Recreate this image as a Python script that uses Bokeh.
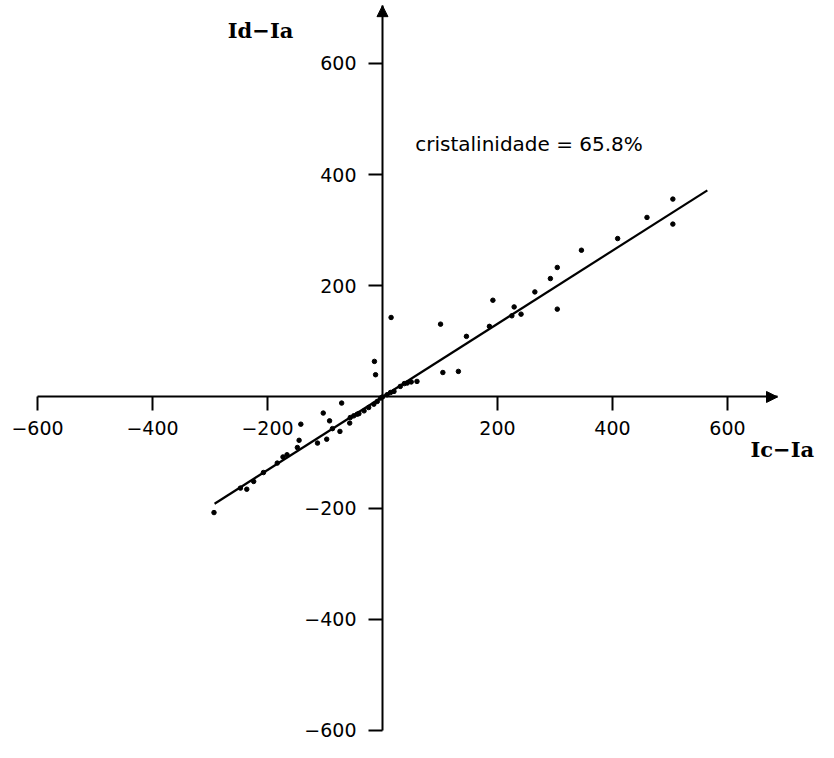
from bokeh.plotting import figure
from bokeh.models import Arrow, NormalHead, Label, FixedTicker, Range1d
from bokeh.embed import file_html
from bokeh.resources import INLINE

# ---- data ----
x_vals = [-293, -247, -236, -224, -207, -183, -173, -166, -148, -145, -142, -113, -97, -103,
          -92, -87, -74, -71, -57, -56, -50, -44, -41, -32, -24, -15, -9, -3, -14, -12,
          0, 8, 14, 20, 31, 38, 43, 50, 60, 15, 101, 105, 132, 146, 186, 192, 225, 229,
          241, 265, 292, 304, 304, 346, 409, 460, 505, 505]
y_vals = [-208, -164, -166, -152, -136, -119, -108, -104, -91, -78, -49, -83, -76, -29,
          -43, -57, -62, -11, -47, -37, -34, -31, -30, -25, -19, -13, -8, -2, 64, 40,
          0, 4, 8, 10, 19, 24, 25, 27, 28, 143, 131, 44, 46, 109, 127, 174, 146, 162,
          149, 189, 213, 233, 158, 264, 285, 323, 356, 311]
slope = 0.658           # cristalinidade = 65.8 %
fit_x = [-292, 565]
fit_y = [slope * v for v in fit_x]
ticks = [-600, -400, -200, 200, 400, 600]
tick_labels = {t: ("\u2212" + str(-t) if t < 0 else str(t)) for t in ticks}
x_axis_extent = (-600, 687)
y_axis_extent = (-600, 704)
annotation = "cristalinidade = 65.8%"
x_title = "Ic\u2212Ia"
y_title = "Id\u2212Ia"

p = figure(width=818, height=742, output_backend="svg", toolbar_location=None,
           x_range=Range1d(-664.3, 758.3), y_range=Range1d(-621.7, 713.3),
           x_axis_location="below", y_axis_location="left", min_border=0)
p.outline_line_color = None
p.xgrid.visible = False
p.ygrid.visible = False
p.background_fill_color = "white"
p.border_fill_color = "white"

for ax, bounds in ((p.xaxis, x_axis_extent), (p.yaxis, y_axis_extent)):
    ax.fixed_location = 0
    ax.bounds = bounds
    ax.ticker = FixedTicker(ticks=ticks)
    ax.major_label_overrides = tick_labels
    ax.axis_line_width = 2
    ax.axis_line_color = "black"
    ax.major_tick_line_width = 2
    ax.major_tick_line_color = "black"
    ax.major_tick_out = 14
    ax.major_tick_in = 0
    ax.minor_tick_line_color = None
    ax.major_label_text_font = "DejaVu Sans"
    ax.major_label_text_font_size = "19px"
    ax.major_label_text_color = "black"
p.xaxis.major_label_standoff = 10
p.yaxis.major_label_standoff = 12

# arrow heads at axis ends
p.add_layout(Arrow(end=NormalHead(size=11, fill_color="black", line_color="black"),
                   x_start=x_axis_extent[1] - 20, y_start=0, x_end=x_axis_extent[1], y_end=0,
                   line_width=2))
p.add_layout(Arrow(end=NormalHead(size=11, fill_color="black", line_color="black"),
                   x_start=0, y_start=y_axis_extent[1] - 20, x_end=0, y_end=y_axis_extent[1],
                   line_width=2))

# fit line and points
p.line(fit_x, fit_y, line_color="black", line_width=2.2)
p.scatter(x_vals, y_vals, size=4.5, color="black")

# texts
p.add_layout(Label(x=57, y=456, text=annotation, text_font="DejaVu Sans",
                   text_font_size="20px", text_baseline="middle", text_color="black"))
p.add_layout(Label(x=-269, y=659, text=y_title, text_font="DejaVu Serif",
                   text_font_style="bold", text_font_size="21px", text_baseline="middle",
                   text_color="black"))
p.add_layout(Label(x=640, y=-95, text=x_title, text_font="DejaVu Serif",
                   text_font_style="bold", text_font_size="21px", text_baseline="middle",
                   text_color="black"))

open("out.html", "w").write(file_html(p, INLINE))
